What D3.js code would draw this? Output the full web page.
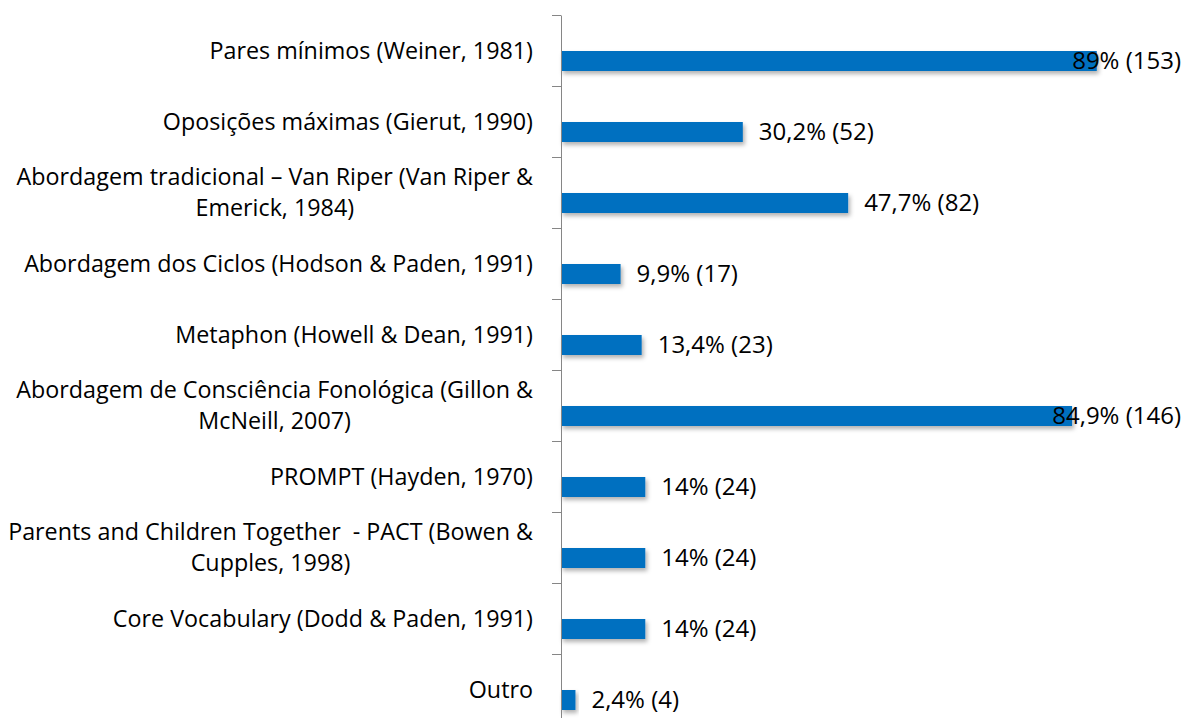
<!DOCTYPE html>
<html lang="pt">
<head>
    <meta charset="UTF-8">
    <title>Abordagens de intervenção</title>
    <script src="https://d3js.org/d3.v7.min.js"></script>
    <style>
        body {
            margin: 0;
            background: #fff;
            font-family: "Open Sans", "Liberation Sans", sans-serif;
        }
        .cat, .lbl {
            fill: #000;
            white-space: pre;
        }
        .cat { font-size: 23.3px; }
        .lbl { font-size: 24px; }
        .axis path, .axis line {
            stroke: #868686;
        }
    </style>
</head>
<body>
    <svg width="1185" height="718"></svg>

    <script>
        const categories = [
            "Pares mínimos (Weiner, 1981)",
            "Oposições máximas (Gierut, 1990)",
            "Abordagem tradicional – Van Riper (Van Riper &\nEmerick, 1984)",
            "Abordagem dos Ciclos (Hodson & Paden, 1991)",
            "Metaphon (Howell & Dean, 1991)",
            "Abordagem de Consciência Fonológica (Gillon &\nMcNeill, 2007)",
            "PROMPT (Hayden, 1970)",
            "Parents and Children Together  - PACT (Bowen &\nCupples, 1998)",
            "Core Vocabulary (Dodd & Paden, 1991)",
            "Outro"
        ];
        const percents = [89, 30.2, 47.7, 9.9, 13.4, 84.9, 14, 14, 14, 2.4];
        const counts = [153, 52, 82, 17, 23, 146, 24, 24, 24, 4];

        const data = categories.map((c, i) => ({ cat: c, pct: percents[i], n: counts[i] }));

        const axisX = 561;
        const svg = d3.select("svg");

        const x = d3.scaleLinear().domain([0, 100]).range([axisX, axisX + 602]);
        const y = d3.scaleBand().domain(categories).range([15, 725]).paddingInner(0);
        const yEdge = d3.scaleLinear().domain([0, categories.length]).range([15, 725]);

        // sombra das barras
        const defs = svg.append("defs");
        defs.append("filter")
            .attr("id", "shadow")
            .attr("x", "-10%").attr("y", "-40%")
            .attr("width", "130%").attr("height", "200%")
            .append("feDropShadow")
            .attr("dx", 2).attr("dy", 3)
            .attr("stdDeviation", 2)
            .attr("flood-color", "#000")
            .attr("flood-opacity", 0.3);

        const barTop = 36, barH = 20;

        svg.append("g")
            .selectAll("rect")
            .data(data)
            .join("rect")
            .attr("x", x(0))
            .attr("y", d => y(d.cat) + barTop)
            .attr("width", d => x(d.pct) - x(0))
            .attr("height", barH)
            .attr("fill", "#0070C0")
            .attr("filter", "url(#shadow)");

        // eixo vertical com marcas nos limites
        svg.append("g")
            .attr("class", "axis")
            .attr("transform", `translate(${axisX},0)`)
            .call(d3.axisLeft(yEdge).ticks(categories.length).tickFormat("").tickSize(9).tickSizeOuter(0));

        // rótulos das categorias (centrados entre si, alinhados à direita)
        const lineH = 31;
        const catG = svg.append("g");
        data.forEach(d => {
            const lines = d.cat.split("\n");
            const t = catG.append("text").attr("class", "cat").attr("text-anchor", "middle");
            const cy = y(d.cat) + y.bandwidth() / 2;
            lines.forEach((ln, j) => {
                t.append("tspan")
                    .attr("y", cy + (j - (lines.length - 1) / 2) * lineH)
                    .attr("dy", "0.35em")
                    .text(ln);
            });
            const w = d3.max(t.selectAll("tspan").nodes(), n => n.getComputedTextLength());
            t.selectAll("tspan").attr("x", 533 - w / 2);
        });

        // rótulos de dados
        const fmt = v => String(v).replace(".", ",");
        svg.append("g")
            .selectAll("text")
            .data(data)
            .join("text")
            .attr("class", "lbl")
            .attr("y", d => y(d.cat) + barTop + barH / 2)
            .attr("dy", "0.35em")
            .text(d => `${fmt(d.pct)}% (${d.n})`)
            .attr("x", function (d) {
                const w = this.getComputedTextLength();
                return Math.min(x(d.pct) + 16, 1181 - w);
            });
    </script>
</body>
</html>
